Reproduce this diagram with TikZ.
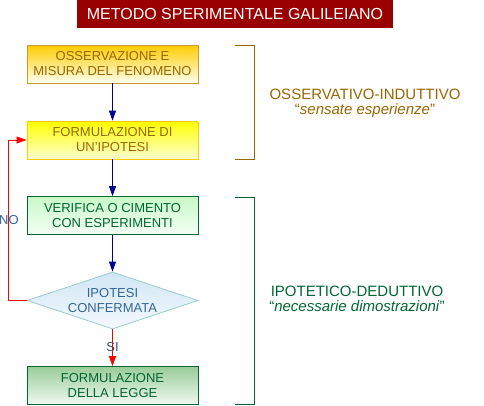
\documentclass[tikz,border=0pt]{standalone}
\usepackage{fontspec}
\setmainfont{Liberation Sans}
\usetikzlibrary{shapes.geometric,arrows.meta}
\definecolor{titlered}{HTML}{990000}
\definecolor{brownt}{HTML}{996600}
\definecolor{greent}{HTML}{006633}
\definecolor{darkblue}{HTML}{000099}
\definecolor{bluet}{HTML}{336699}
\definecolor{diaedge}{HTML}{99CCCC}
\definecolor{b1top}{HTML}{FFCC00}
\definecolor{b1bot}{HTML}{FFFFF0}
\definecolor{b1edge}{HTML}{CC9933}
\definecolor{b2bot}{HTML}{FFFFD0}
\definecolor{b2edge}{HTML}{FFCC00}
\definecolor{b3top}{HTML}{C8F8C8}
\definecolor{b3bot}{HTML}{F4FFF4}
\definecolor{b5top}{HTML}{99CC99}
\definecolor{b5bot}{HTML}{F0F8F0}
\definecolor{dtop}{HTML}{D0E6F4}
\definecolor{dbot}{HTML}{F4F9FD}
\tikzset{
  box/.style={draw, line width=0.8pt, minimum width=171pt, minimum height=38pt, inner sep=0pt, align=center, font=\fontsize{13}{15}\selectfont},
  flow/.style={draw=darkblue, line width=0.8pt, -{Triangle[width=7pt,length=10pt]}},
  redflow/.style={draw=red, line width=0.8pt, -{Triangle[width=7pt,length=10pt]}},
  lbl/.style={font=\fontsize{13}{15}\selectfont}
}
\begin{document}
\begin{tikzpicture}[x=1pt,y=-1pt]
\useasboundingbox (0,0) rectangle (484,405);
\node[fill=titlered, text=white, minimum width=316pt, minimum height=28pt, inner sep=0pt, font=\fontsize{16}{18}\selectfont] (title) at (235,14) {METODO SPERIMENTALE GALILEIANO};
\node[box, draw=b1edge, top color=b1top, bottom color=b1bot, text=brownt] (b1) at (112.5,64) {OSSERVAZIONE E\\MISURA DEL FENOMENO};
\node[box, draw=b2edge, top color=yellow, bottom color=b2bot, text=brownt] (b2) at (112.5,140) {FORMULAZIONE DI\\UN'IPOTESI};
\node[box, draw=greent, top color=b3top, bottom color=b3bot, text=greent] (b3) at (112.5,215.5) {VERIFICA O CIMENTO\\CON ESPERIMENTI};
\node[diamond, draw=diaedge, line width=0.8pt, top color=dtop, bottom color=dbot, aspect=3, minimum width=171pt, minimum height=57pt, inner sep=0pt, align=center, text=bluet, font=\fontsize{13}{15}\selectfont] (d) at (112.5,300.5) {IPOTESI\\CONFERMATA};
\node[box, draw=greent, top color=b5top, bottom color=b5bot, text=greent] (b5) at (112.5,385.5) {FORMULAZIONE\\DELLA LEGGE};
\draw[flow] (b1) -- (b2);
\draw[flow] (b2) -- (b3);
\draw[flow] (b3) -- (d.north);
\node[lbl, text=bluet!80!black, inner sep=0pt] (si) at (112.5,347) {SI};
\draw[redflow] (d.south) -- (b5);
\coordinate (c1) at (8,300.5);
\coordinate (c2) at (8,140);
\draw[redflow] (d.west) -- (c1) -- (c2) -- (b2.west);
\node[lbl, text=bluet, anchor=west, inner sep=0pt] (no) at (-1,220) {NO};
\draw[brownt, line width=0.8pt] (235,45) coordinate (k1) -- (254,45) -- (254,159) -- (235,159);
\draw[greent, line width=0.8pt] (235,197) -- (254,197) -- (254,404) -- (235,404);
\node[text=brownt, align=center, font=\fontsize{15}{15}\selectfont] (t1) at (365,103) {OSSERVATIVO-INDUTTIVO\\``\textit{sensate esperienze}''};
\node[text=greent, align=center, font=\fontsize{15}{15}\selectfont] (t2) at (357,298.5) {IPOTETICO-DEDUTTIVO\\``\textit{necessarie dimostrazioni}''};
\end{tikzpicture}
\end{document}
